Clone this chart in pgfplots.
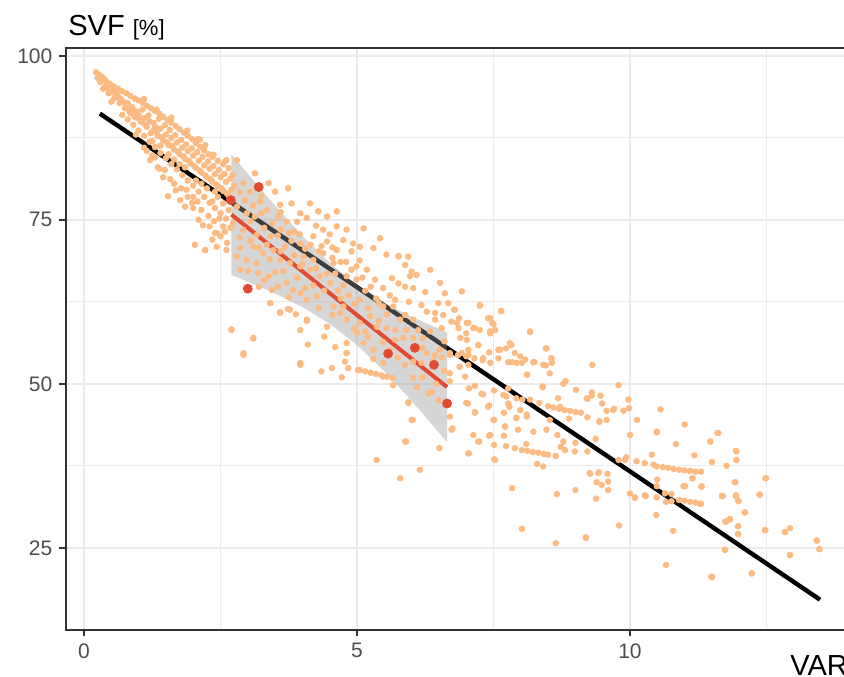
\documentclass[border=0pt]{standalone}
\usepackage{fontspec}
\setmainfont{Liberation Sans}
\usepackage{pgfplots}
\pgfplotsset{compat=1.18}

\definecolor{ptorange}{HTML}{FDBB84}
\definecolor{ptred}{HTML}{E34A33}
\definecolor{gridc}{HTML}{EBEBEB}
\definecolor{axc}{HTML}{333333}
\definecolor{tickc}{HTML}{4D4D4D}
\definecolor{bandc}{HTML}{999999}

\begin{document}
\begin{tikzpicture}
\begin{axis}[
    x=27.3pt, y=3.28pt,
    xmin=-0.33, xmax=14.6, ymin=12.5, ymax=101.2,
    xtick={0,5,10}, ytick={25,50,75,100},
    minor xtick={2.5,7.5,12.5}, minor ytick={37.5,62.5,87.5},
    grid=both,
    major grid style={draw=gridc, line width=1pt},
    minor grid style={draw=gridc, line width=0.5pt},
    axis line style={draw=axc, line width=0.75pt},
    tick pos=left, tick align=outside,
    major tick length=3.3pt, minor tick length=0pt,
    every tick/.style={draw=axc, line width=0.75pt},
    tick label style={font=\fontsize{10.5}{12}\selectfont, text=tickc},
    /pgf/number format/assume math mode=true,
]

% all stations
\addplot[only marks, mark=*, mark size=1.4pt, color=ptorange, mark options={draw=none}] coordinates {
(0.22,97.5)(0.28,97.1)(0.33,96.8)(0.38,96.4)(0.42,96.0)(0.48,95.7)(0.55,95.3)(0.62,95.0)(0.70,94.6)(0.78,94.3)
(0.85,93.9)(0.93,93.5)(1.00,93.2)(1.08,92.8)(1.15,92.4)(1.23,92.0)(1.30,91.6)(1.38,91.2)(1.45,90.7)(1.53,90.2)
(1.60,89.8)(1.68,89.3)(1.75,88.8)(1.83,88.3)(1.90,87.8)(1.98,87.3)(2.05,86.7)(2.13,86.1)(2.20,85.6)(2.28,85.0)
(2.35,84.6)(2.45,84.0)(2.55,83.5)(2.65,82.9)
(1.33,91.8)(1.89,88.6)(2.12,87.2)(2.37,84.9)(2.61,84.1)(2.80,84.1)(1.10,93.4)(1.60,90.6)(2.09,87.3)(2.22,86.4)
(0.35,95.0)(0.45,94.3)(0.55,93.5)(0.65,92.8)(0.75,92.0)(0.85,91.3)(0.95,90.6)(1.05,89.9)(1.15,89.2)(1.25,88.5)
(1.35,87.8)(1.45,87.1)(1.55,86.4)(1.65,85.7)(1.75,85.0)(1.85,84.3)(1.95,83.6)(2.05,82.9)(2.15,82.2)(2.25,81.5)
(2.35,80.8)(2.45,80.1)(2.55,79.4)(2.65,78.7)
(0.70,91.0)(0.80,90.3)(0.90,89.5)(1.00,88.6)(1.10,87.8)(1.20,86.9)(1.30,86.1)(1.40,85.2)(1.50,84.4)(1.60,83.5)
(1.70,82.7)(1.80,81.8)(1.90,81.0)(2.00,80.2)(2.10,79.3)(2.20,78.5)(2.30,77.6)(2.40,76.8)(2.50,76.0)(2.60,75.2)
(1.21,84.1)(1.35,83.0)(1.54,78.6)(1.76,78.0)(2.00,76.8)(2.03,71.2)(2.22,70.4)(2.43,73.0)(1.65,80.5)(1.90,78.5)
(2.10,75.0)(2.30,74.0)(2.50,72.5)(1.45,81.5)(1.10,86.0)(0.95,88.0)(1.30,84.5)(1.85,77.0)(2.15,76.5)(2.35,72.0)
(2.55,74.0)(2.62,71.5)
(0.50,93.0)(0.60,94.2)(0.80,92.8)(0.90,91.8)(1.00,91.0)(1.10,90.5)(1.20,90.0)(1.30,89.2)(1.40,88.9)(1.50,88.0)
(1.60,87.5)(1.70,86.8)(1.80,86.0)(1.90,85.5)(2.00,84.8)(2.10,84.0)(2.20,83.3)(2.30,82.8)(2.40,82.0)(2.50,81.5)
(2.60,80.8)(1.25,87.0)(1.55,85.0)(1.85,83.0)(2.15,80.5)(2.45,78.5)(2.05,81.0)(1.75,83.5)(1.40,86.3)(2.25,79.8)
(2.55,77.5)(2.65,76.5)(2.40,79.3)(2.00,78.5)(1.65,84.2)(2.35,77.8)
(0.25,96.6)(0.30,96.0)(0.40,95.4)(0.45,95.0)(0.52,94.6)(0.58,94.0)(0.63,93.7)(0.68,93.4)(0.72,93.0)(0.77,92.5)
(0.82,91.7)(0.88,92.2)(0.92,90.8)(0.97,91.5)(1.03,90.2)(1.07,91.8)(1.12,89.5)(1.18,90.9)(1.22,88.2)(1.27,89.8)
(1.33,88.4)(1.37,90.4)(1.42,87.6)(1.48,89.4)(1.52,86.8)(1.57,88.7)(1.62,86.2)(1.67,87.9)(1.72,85.4)(1.78,87.2)
(1.82,84.7)(1.87,86.5)(1.92,84.0)(1.97,85.9)(2.02,83.2)(2.07,85.3)(2.12,82.5)(2.17,84.6)(2.22,81.8)(2.27,83.9)
(2.32,81.2)(2.37,83.2)(2.42,80.4)(2.47,82.6)(2.52,79.8)(2.57,82.0)(2.62,79.0)(2.68,81.3)(2.70,79.6)(2.75,80.2)
(1.15,85.5)(1.25,84.8)(1.38,82.8)(1.48,82.6)(1.58,81.2)(1.68,79.5)(1.78,79.8)(1.88,79.6)(1.98,77.6)(2.08,77.8)
(2.18,74.2)(2.28,75.6)(2.38,74.8)(2.48,75.2)(2.58,73.2)(2.68,73.8)
(2.37,84.9)(2.58,83.9)(2.73,81.9)(2.92,80.6)(3.04,79.3)(3.13,82.1)(3.38,80.6)(3.50,79.3)(3.59,77.3)(3.74,79.8)
(3.80,77.5)(3.96,76.0)(4.14,77.5)(4.29,76.3)(4.45,75.5)(4.63,76.3)(4.38,73.5)(4.63,74.0)(4.81,73.5)(5.12,73.7)
(5.42,72.2)(5.76,69.4)(4.75,71.9)(4.93,71.4)(5.05,70.9)(5.30,70.7)(4.63,70.4)(4.45,71.7)(4.20,72.5)(4.08,75.3)
(3.90,74.7)(3.71,74.7)(3.56,75.5)(3.35,76.5)(3.22,77.8)(3.13,75.5)(2.98,76.0)(2.80,77.0)(2.73,74.5)(2.92,73.5)
(3.16,72.7)(3.41,72.5)(3.68,70.9)(3.96,71.4)(4.02,69.4)(4.20,68.9)(4.38,69.9)(4.57,68.4)(4.99,67.9)(5.18,67.4)
(5.33,65.9)(5.48,64.6)(4.99,65.9)(4.81,66.4)(4.51,65.4)(4.32,66.4)(4.14,67.4)(3.96,67.9)(3.77,68.4)(3.59,68.9)
(3.47,70.4)(3.28,69.9)(3.10,70.9)(2.86,70.7)(2.80,69.4)(2.98,68.9)(3.16,68.4)(2.86,67.4)(2.61,70.4)(2.43,70.9)
(2.40,73.0)(2.22,70.4)(3.19,66.9)(3.38,66.4)(3.44,64.3)(3.71,65.4)(3.83,64.3)(3.96,63.8)(4.08,62.8)(4.26,63.3)
(4.57,61.8)(4.69,60.8)(4.81,59.8)(5.05,59.3)(5.24,60.3)(5.36,58.7)(3.59,60.8)(3.77,61.3)(3.41,62.3)(4.45,58.7)
(4.08,59.8)(3.96,58.2)(3.10,57.0)(2.70,58.2)(2.92,54.7)(3.96,53.2)(4.81,56.2)(5.12,56.2)(5.30,55.2)(4.81,54.7)
(3.05,74.8)(3.30,73.8)(3.55,72.6)(3.80,71.8)(4.05,70.6)(4.30,70.2)(4.55,69.2)(4.80,68.6)(5.05,68.8)(3.25,78.6)
(3.60,76.2)(3.85,73.2)(4.25,74.1)(4.50,72.8)(4.90,70.2)(3.35,71.2)(3.65,67.2)(3.90,66.2)(4.20,65.0)(4.40,64.2)
(4.70,63.0)(4.95,62.2)(5.20,61.5)(5.40,62.3)(3.20,64.8)(3.50,67.0)(4.60,66.8)(4.75,65.0)(5.15,64.2)(5.35,63.0)
(2.85,79.2)(2.95,78.0)(3.10,77.2)(3.25,76.0)(3.45,74.5)(3.60,73.5)(3.75,73.0)(3.95,72.8)(4.15,71.2)(4.35,71.0)
(4.55,70.8)(4.70,68.6)(4.90,67.4)(5.10,66.2)(5.25,64.8)(2.85,72.3)(3.05,71.8)(3.20,70.8)(3.40,69.0)(3.60,70.2)
(3.85,69.6)(4.00,68.2)(4.25,67.6)(4.45,66.8)(4.65,64.2)(4.85,63.5)(5.05,62.8)(3.00,67.2)(3.30,65.8)(3.55,64.8)
(3.75,63.2)(4.05,64.6)(4.30,61.6)(4.55,60.5)(4.75,61.8)(4.95,58.4)(5.15,58.0)(5.40,59.6)(5.55,60.6)(5.70,62.8)
(2.70,58.3)(2.92,54.4)(3.10,56.9)(3.41,62.3)(3.59,60.9)(3.74,61.4)(3.88,60.6)(4.08,59.6)(3.96,52.9)(4.35,51.9)
(4.54,52.4)(4.72,51.0)(4.84,52.4)(4.78,53.4)(4.81,54.7)(5.02,52.1)(5.36,38.4)(5.79,35.6)(5.90,41.2)(6.02,44.5)
(5.94,47.2)(4.10,56.0)(4.40,57.2)(4.60,55.6)(5.00,57.8)(5.20,57.2)
(5.05,52.1)(5.15,51.9)(5.25,51.7)(5.35,51.5)(5.45,51.3)(5.55,51.1)(5.65,50.9)
(5.54,69.7)(5.76,69.5)(5.94,69.4)(5.88,68.1)(6.00,67.1)(5.97,66.4)(6.09,66.6)(6.34,67.4)(5.64,66.1)(5.76,65.3)
(5.88,64.8)(6.03,64.6)(6.52,65.4)(6.61,63.8)(6.92,64.1)(6.49,62.3)(6.67,62.3)(6.18,62.0)(6.28,61.0)(6.43,60.8)
(6.58,60.5)(6.78,61.3)(6.73,59.5)(6.87,60.0)(6.86,58.5)(7.04,59.3)(7.25,62.0)(7.13,58.5)(7.25,58.2)(7.40,60.0)
(7.47,59.3)(7.44,58.0)(7.53,58.2)(7.64,61.1)(8.17,58.0)(7.01,56.7)(7.22,55.9)(7.04,55.2)(6.92,54.7)(7.59,55.2)
(7.73,55.4)(7.83,55.9)(7.89,54.7)(7.99,54.2)(8.08,53.7)(7.77,53.3)(7.92,53.2)(8.11,51.4)(8.23,53.3)(8.47,55.4)
(8.56,53.9)(8.41,52.9)(8.40,49.6)(6.70,54.4)(6.88,52.6)(7.04,52.9)(6.98,51.1)(7.16,49.7)(7.03,47.0)(7.16,45.6)
(7.40,46.5)(7.28,48.5)(7.51,49.0)(7.51,44.5)(7.73,48.1)(7.71,43.5)(7.92,44.8)(7.77,47.0)(8.11,45.0)(7.44,42.2)
(7.24,41.2)(7.04,39.4)(7.53,38.4)(6.15,36.9)(6.51,40.2)(6.73,43.0)(6.70,45.0)(6.00,44.5)(5.88,41.2)(5.94,47.1)
(6.37,48.8)(6.70,51.6)(6.70,50.4)(5.48,51.1)(5.66,49.8)(5.48,53.2)(6.03,53.4)(6.03,50.9)(6.18,53.2)(5.88,52.9)
(5.85,57.0)(6.03,57.0)(6.21,57.0)(6.34,58.0)(6.12,58.2)(5.91,58.2)(5.70,58.2)(5.54,58.5)(5.70,56.7)(5.48,56.4)
(5.60,55.2)(6.28,54.7)(6.43,54.4)(6.52,55.2)(6.43,59.8)(5.79,59.8)(5.66,61.8)(5.48,61.8)(5.88,60.5)(6.03,59.8)
(6.10,49.5)(6.30,48.5)(6.50,47.5)(6.20,51.0)(6.45,50.0)(6.60,52.0)(6.40,53.5)(6.55,54.0)(6.60,56.5)(6.20,55.5)
(5.60,63.5)(5.95,62.5)(6.25,64.0)(6.55,58.5)(5.30,53.8)(5.75,54.0)
(6.70,54.7)(6.85,54.4)(7.00,54.2)(7.15,53.9)(7.30,53.6)(7.44,53.2)
(6.79,61.3)(6.83,59.3)(6.89,57.0)(7.00,57.7)(7.16,58.5)(7.44,57.7)(7.44,60.0)(7.50,59.1)(7.01,59.3)(7.42,54.8)
(7.59,53.9)(7.31,53.9)(7.22,55.9)(7.04,54.4)(7.62,55.2)(7.80,56.2)(7.84,53.3)(8.02,53.2)(8.12,51.4)(8.25,53.3)
(8.46,52.8)(8.57,53.2)(8.53,51.6)(8.40,49.5)(7.77,49.3)(7.31,48.4)(7.16,45.7)(7.00,47.1)(7.05,49.3)(7.42,46.7)
(7.68,48.3)(8.03,47.6)(7.99,46.0)(8.23,42.7)(8.53,44.5)(8.72,46.5)(7.25,61.9)(7.64,61.1)(8.17,57.9)(8.46,55.4)
(8.56,53.9)(9.31,52.9)(9.79,49.8)(9.97,47.6)(10.56,46.1)(11.00,43.8)(11.60,42.5)(11.47,41.2)(11.94,39.8)(11.95,38.4)
(12.49,35.6)(7.84,34.1)(8.66,33.2)(9.00,33.8)(8.02,27.9)(8.64,25.7)(9.19,26.5)(9.80,28.4)(10.66,22.4)(10.79,27.6)
(11.49,20.6)(12.23,21.1)(11.74,24.7)(12.93,23.9)(12.84,27.4)(12.47,27.7)(13.42,26.1)(13.47,24.8)(10.48,30.0)(10.50,35.4)
(10.09,32.6)(10.29,32.9)(10.98,34.4)(11.14,35.6)(11.31,34.4)(10.64,33.3)(10.76,32.1)(11.70,32.9)(11.94,32.9)(11.99,32.1)
(12.10,30.4)(11.75,29.0)(11.83,29.3)(11.98,28.3)(11.98,27.1)(11.93,35.0)(12.38,33.1)(10.84,40.8)(11.18,39.1)(10.40,39.2)
(10.49,42.6)(10.00,42.2)(10.12,38.2)(10.27,37.9)(10.43,37.7)(9.79,38.4)(9.93,38.8)(10.00,33.3)(10.49,34.4)(9.60,35.1)
(9.60,33.8)(9.39,35.0)(9.42,36.4)(9.48,34.6)(9.26,36.4)(9.37,41.6)(9.44,44.2)(9.22,44.9)(9.22,39.7)(8.99,39.7)
(9.00,41.0)(8.81,39.9)(8.73,40.4)(8.78,41.2)(8.64,39.0)(8.67,42.2)(8.47,43.0)(8.41,37.4)(8.30,37.8)(8.10,40.8)
(7.95,43.0)(7.89,40.2)(7.73,40.5)(7.71,43.5)(7.69,42.1)(7.51,38.5)(7.51,40.7)(7.42,42.1)(7.22,41.2)(7.13,42.2)
(7.05,39.4)(6.75,43.2)(7.50,44.5)(7.69,45.6)(7.79,46.5)(7.92,44.8)(8.11,45.3)(8.17,47.6)(7.92,47.8)(8.34,47.1)
(8.40,49.5)(8.68,47.8)(9.01,49.1)(9.22,47.7)(9.30,48.2)(9.46,48.2)(9.57,45.9)(9.71,46.2)(9.98,46.3)(10.13,44.5)
(8.82,50.4)(8.78,50.0)(9.21,47.8)(9.30,48.7)(9.49,47.0)(9.69,46.0)(9.88,45.9)(9.57,44.5)(9.44,44.3)(8.88,44.7)
(10.49,42.7)(9.91,38.4)(9.27,36.3)(9.43,36.5)(9.59,36.3)(9.38,32.5)(10.09,32.7)(10.27,33.0)(10.49,32.7)(10.66,32.0)
(10.76,33.2)(11.15,35.6)(11.01,34.4)(11.76,29.0)(11.50,20.5)(9.19,26.6)
(8.50,46.6)(8.60,46.4)(8.70,46.2)(8.80,46.0)(8.90,45.9)(9.00,45.7)(9.10,45.6)
(8.02,39.9)(8.12,39.8)(8.22,39.6)(8.32,39.5)(8.42,39.3)(8.50,39.2)
(10.49,37.4)(10.60,37.3)(10.70,37.2)(10.80,37.0)(10.90,36.9)(11.00,36.8)(11.10,36.7)(11.20,36.6)(11.30,36.6)
(10.90,32.3)(11.00,32.2)(11.10,32.0)(11.20,31.9)(11.30,31.7)
(11.62,42.5)(11.47,41.2)(11.95,39.7)(11.95,38.4)(11.50,38.1)(11.77,37.5)(12.48,35.6)(11.92,35.0)(11.68,32.9)(11.94,33.0)
(11.98,32.2)(12.37,33.1)(12.11,30.4)(11.83,29.4)(11.75,29.0)(11.98,28.3)(11.98,27.1)(12.48,27.7)(12.84,27.4)(12.93,28.0)
(13.42,26.1)(13.47,24.8)(12.93,23.9)(11.74,24.7)(11.50,20.6)(12.23,21.1)(11.31,34.3)(11.28,31.7)
};

% overall fit
\addplot[black, line width=2.2pt] coordinates {(0.29,91.2) (13.48,17.1)};

% subset
\addplot[only marks, mark=*, mark size=2.25pt, color=ptred, mark options={draw=none}] coordinates {
(2.69,78.0)(3.20,80.0)(3.00,64.5)(5.57,54.6)(6.06,55.5)(6.41,52.9)(6.65,47.0)
};

% confidence band of the subset fit
\addplot[draw=none, fill=bandc, fill opacity=0.4] coordinates {
(2.70,85.00)(3.00,82.02)(3.50,77.17)(4.00,72.58)(4.50,68.45)(5.00,65.04)(5.50,62.38)(6.00,60.24)(6.30,59.11)(6.65,57.87)
(6.65,41.11)(6.30,44.53)(6.00,47.40)(5.50,51.92)(5.00,55.92)(4.50,59.17)(4.00,61.70)(3.50,63.77)(3.00,65.58)(2.70,66.60)
} -- cycle;

\addplot[ptred, line width=2pt] coordinates {(2.70,75.8) (6.65,49.5)};

\coordinate (ll) at (rel axis cs:0,0);
\coordinate (tl) at (rel axis cs:0,1);
\coordinate (ur) at (axis cs:13.92,101.2);
\coordinate (vr) at (axis cs:12.93,12.5);
\end{axis}

\node[anchor=base west, inner sep=0pt, font=\fontsize{14.5}{17}\selectfont] at ([xshift=1pt,yshift=6pt]tl) {SVF {\fontsize{11}{13}\selectfont[\%]}};
\node[anchor=base west, inner sep=0pt, font=\fontsize{14.5}{17}\selectfont] at ([yshift=-23pt]vr) {VAR};

\pgfresetboundingbox
\useasboundingbox ([xshift=-33pt,yshift=-23.5pt]ll) rectangle ([yshift=24pt]ur);
\end{tikzpicture}
\end{document}
